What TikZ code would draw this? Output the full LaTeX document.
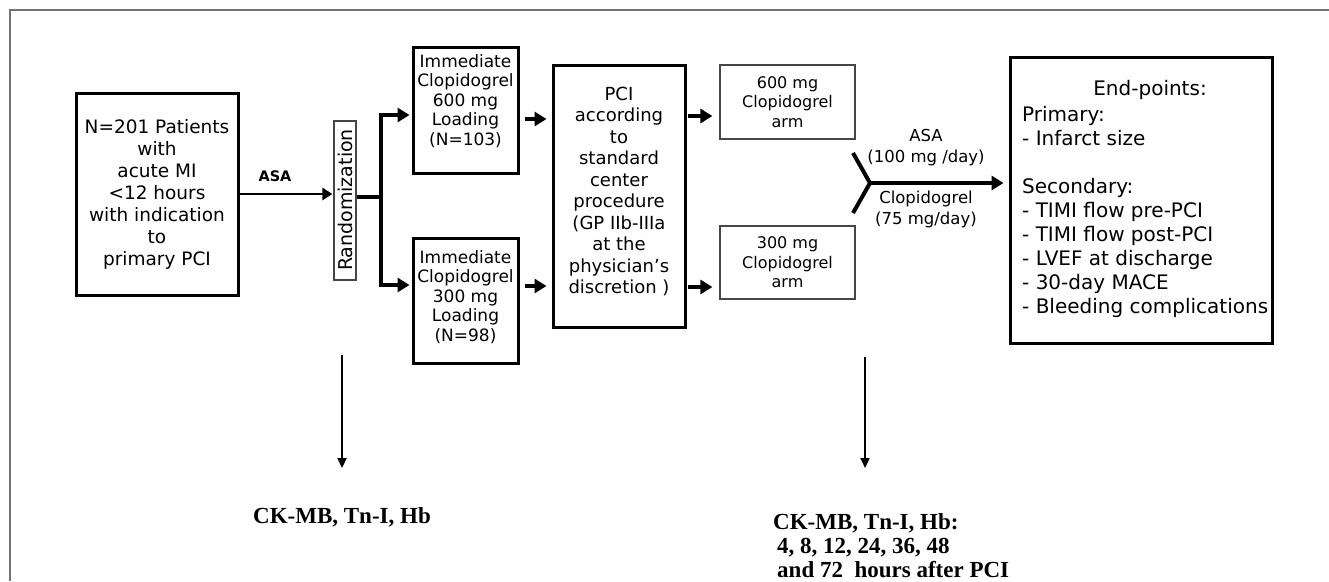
\documentclass[tikz,border=0pt]{standalone}
\usepackage{fontspec}
\setmainfont{DejaVu Sans}
\newfontfamily\timesfont{Liberation Serif}
\usetikzlibrary{arrows.meta}
\definecolor{framegray}{RGB}{115,115,115}
\definecolor{thingray}{RGB}{70,70,70}
\begin{document}
\begin{tikzpicture}[x=1pt,y=-1pt,
  thickbox/.style={draw=black,line width=3pt,rectangle,inner sep=0pt},
  thinbox/.style={draw=thingray,line width=1.2pt,rectangle,inner sep=0pt},
  txt/.style={inner sep=0pt,align=center},
  bigarrow/.style={line width=3.2pt,-{Triangle[length=12pt,width=14pt]}},
  asaarrow/.style={line width=2.6pt,-{Triangle[length=10pt,width=12pt]}},
  downarrow/.style={line width=2.2pt,-{Triangle[length=10pt,width=9pt]}},
  patfont/.style={font=\fontsize{18.5}{22}\selectfont},
  immfont/.style={font=\fontsize{17}{19.5}\selectfont},
  pcifont/.style={font=\fontsize{18}{21.5}\selectfont},
  armfont/.style={font=\fontsize{16}{19.5}\selectfont},
  epfont/.style={font=\fontsize{20}{24}\selectfont},
  jfont/.style={font=\fontsize{16.5}{21}\selectfont},
  serifb/.style={font=\timesfont\bfseries\fontsize{23}{24}\selectfont},
]
\useasboundingbox (0,0) rectangle (1329,581);
\fill[white] (0,0) rectangle (1329,581);
% frame
\draw[framegray,line width=1.5pt] (10,581) -- (10,10) -- (1329,10);

% patient box
\node[thickbox,patfont,txt,minimum width=162pt,minimum height=202pt] (pat) at (157,194)
  {N=201 Patients\\with\\acute MI\\<12 hours\\with indication\\to\\primary PCI};
\node[font=\bfseries\fontsize{14.5}{16}\selectfont,inner sep=0pt] (asa) at (275,176) {ASA};

% randomization
\node[thinbox,minimum width=22pt,minimum height=159pt] (rand) at (345,200.5) {};
\node[txt,rotate=90,font=\fontsize{19}{20}\selectfont] (randt) at (345,200) {Randomization};
\draw[asaarrow,shorten >=1pt] (pat.east) -- (pat.east -| rand.west);

% immediate boxes
\node[thickbox,minimum width=105pt,minimum height=126pt] (imm1) at (465.5,110) {};
\node[txt,immfont] (imm1t) at (465.5,101) {Immediate\\Clopidogrel\\600 mg\\Loading\\(N=103)};
\node[thickbox,minimum width=105pt,minimum height=125pt] (imm2) at (465.5,300.5) {};
\node[txt,immfont] (imm2t) at (465.5,297) {Immediate\\Clopidogrel\\300 mg\\Loading\\(N=98)};

% branch
\coordinate (br) at (381,197);
\draw[line width=4pt] (rand.east |- br) -- (br);
\draw[bigarrow,shorten >=2pt] (br) |- ([yshift=-5pt]imm1.west);
\draw[bigarrow,shorten >=2pt] (br) |- ([yshift=15.5pt]imm2.west);

% PCI box
\node[thickbox,minimum width=132pt,minimum height=262pt] (pci) at (619,196) {};
\node[txt,pcifont] (pcit) at (619,191.5) {PCI\\according\\to\\standard\\center\\procedure\\(GP IIb-IIIa\\at the\\physician’s\\discretion )};

\coordinate (a1) at ([yshift=-9pt]imm1.east);
\coordinate (a2) at ([yshift=14.5pt]imm2.east);
\draw[bigarrow,shorten <=5pt,shorten >=5pt] (a1) -- (a1 -| pci.west);
\draw[bigarrow,shorten <=5pt,shorten >=5pt] (a2) -- (a2 -| pci.west);

% arm boxes
\node[thinbox,armfont,txt,minimum width=135pt,minimum height=74pt] (arm1) at (787.5,102) {600 mg\\Clopidogrel\\arm};
\node[thinbox,armfont,txt,minimum width=135pt,minimum height=73pt] (arm2) at (787.5,262.5) {300 mg\\Clopidogrel\\arm};
\coordinate (p1) at ([yshift=-14pt]arm1.west);
\coordinate (p2) at ([yshift=-24.5pt]arm2.west);
\draw[bigarrow,shorten <=1pt,shorten >=7pt] (p1 -| pci.east) -- (p1);
\draw[bigarrow,shorten <=1pt,shorten >=7pt] (p2 -| pci.east) -- (p2);

% end-points box
\node[thickbox,minimum width=262pt,minimum height=286pt] (ep) at (1141,200) {};
\node[epfont,inner sep=0pt] (ept) at (1150,90) {End-points:};
\node[epfont,inner sep=0pt,align=left,anchor=west] (epl) at (1022,211.5)
  {Primary:\\- Infarct size\\[24pt]Secondary:\\- TIMI flow pre-PCI\\- TIMI flow post-PCI\\- LVEF at discharge\\- 30-day MACE\\- Bleeding complications};

% Y junction
\coordinate (yj) at (870,183);
\coordinate (ya) at (853,153);
\coordinate (yb) at (853,213);
\draw[line width=4pt] (ya) -- (yj) -- (yb);
\draw[bigarrow,shorten >=5pt] (yj) -- (yj -| ep.west);
\node[txt,jfont] (asa2) at (926,147.5) {ASA\\(100 mg /day)};
\node[txt,jfont] (clop) at (926,209) {Clopidogrel\\(75 mg/day)};

% bottom
\coordinate (d1) at (342,355);
\coordinate (d1e) at (342,468);
\coordinate (d2) at (865,357);
\coordinate (d2e) at (865,468);
\draw[downarrow] (d1) -- (d1e);
\draw[downarrow] (d2) -- (d2e);
\node[serifb,inner sep=0pt] (ck1) at (342,517) {CK-MB, Tn-I, Hb};
\node[serifb,inner sep=0pt,align=left,anchor=west] (ck2) at (773,546)
  {CK-MB, Tn-I, Hb:\\\hspace*{4pt}4, 8, 12, 24, 36, 48\\\hspace*{4pt}and 72\ \ hours after PCI};
\end{tikzpicture}
\end{document}
